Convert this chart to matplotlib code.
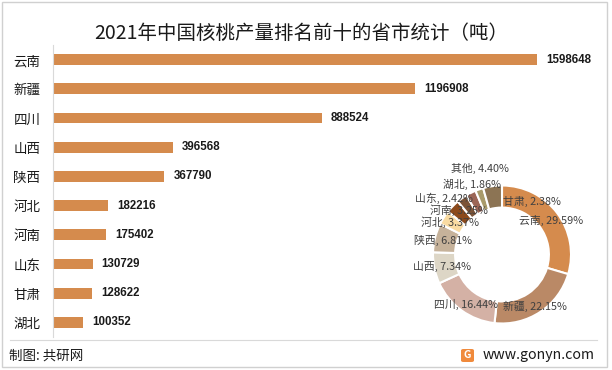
import matplotlib
matplotlib.use('Agg')
import matplotlib.pyplot as plt
from matplotlib.patches import Rectangle, FancyBboxPatch
from matplotlib.lines import Line2D
import numpy as np

plt.rcParams['font.family'] = ['Noto Sans CJK SC', 'DejaVu Sans']

# ------------------- DATA -------------------
provinces = ['云南', '新疆', '四川', '山西', '陕西', '河北', '河南', '山东', '甘肃', '湖北']
output_t = [1598648, 1196908, 888524, 396568, 367790, 182216, 175402, 130729, 128622, 100352]

share_names = ['云南', '新疆', '四川', '山西', '陕西', '河北', '河南', '山东', '甘肃', '湖北', '其他']
share_pct = [29.59, 22.15, 16.44, 7.34, 6.81, 3.37, 3.25, 2.42, 2.38, 1.86, 4.40]
share_colors = ['#D58B4D', '#BA8966', '#D4B1A5', '#DDD6C6', '#C6B29A', '#F9DBA2',
                '#8C4A1C', '#7B5337', '#9C6656', '#A99B6B', '#8C7454']
# label spots (donut radius units)
label_xy = [(0.71, 0.50), (0.48, -0.75), (-0.52, -0.73), (-0.87, -0.18), (-0.86, 0.21),
            (-0.75, 0.47), (-0.63, 0.64), (-0.84, 0.81), (0.44, 0.77), (-0.44, 1.01),
            (-0.32, 1.24)]

W, H = 612, 370
fig = plt.figure(figsize=(W / 100, H / 100), dpi=100)
fig.patch.set_facecolor('white')


def fx(px):
    return px / W


def fy(py):
    return 1 - py / H


# frame + separator
fig.patches.append(Rectangle((fx(2), fy(367)), fx(605), 365 / H, transform=fig.transFigure,
                             fill=False, ec='#D0D0D0', lw=1.0))
fig.lines.append(Line2D([fx(10), fx(597)], [fy(340), fy(340)], transform=fig.transFigure,
                        color='#D9D9D9', lw=0.8))

fig.text(fx(301), fy(33), '2021年中国核桃产量排名前十的省市统计（吨）', ha='center', va='center',
         fontsize=14, color='#1a1a1a')

# ------------------- BARS -------------------
ax = fig.add_axes([fx(53), fy(337), fx(545), 292 / H])
y = np.arange(len(provinces))
ax.barh(y, output_t, height=0.37, color='#D58B4D')
ax.set_ylim(len(provinces) - 0.5, -0.5)
ax.set_xlim(0, 1.8e6)
ax.set_yticks(y)
ax.set_yticklabels(provinces, fontsize=9.7, color='#1a1a1a')
ax.tick_params(axis='y', length=0, pad=9)
ax.set_xticks([])
for s in ['top', 'right', 'bottom']:
    ax.spines[s].set_visible(False)
ax.spines['left'].set_color('#D9D9D9')
for yi, v in zip(y, output_t):
    ax.annotate(str(v), (v, yi), xytext=(6.5, 0), textcoords='offset points',
                va='center', ha='left', fontsize=8.3, fontweight='bold',
                family=['Liberation Sans', 'DejaVu Sans'], color='#1a1a1a')
ax.patch.set_alpha(0)

# ------------------- DONUT -------------------
r_px = 69
cx, cy = 502, 254.5
pax = fig.add_axes([fx(cx - r_px), fy(cy + r_px), 2 * r_px / W, 2 * r_px / H])
pax.pie(share_pct, colors=share_colors, startangle=90, counterclock=False,
        wedgeprops=dict(width=0.32, edgecolor='white', linewidth=1.5))
pax.set_xlim(-1, 1)
pax.set_ylim(-1, 1)
for name, p, (lx, ly) in zip(share_names, share_pct, label_xy):
    pax.text(lx, ly, f'{name}, {p:.2f}%', ha='center', va='center', fontsize=7.8,
             color='#404040', clip_on=False)

# ------------------- FOOTER -------------------
fig.text(fx(9), fy(356), '制图: 共研网', ha='left', va='center', fontsize=9.7, color='#1a1a1a')
fig.patches.append(FancyBboxPatch((fx(461), fy(362)), fx(13), 13 / H,
                                  boxstyle='round,pad=0,rounding_size=0.004',
                                  transform=fig.transFigure, fc='#F08A3C', ec='none'))
fig.text(fx(467.5), fy(355.5), 'G', ha='center', va='center', fontsize=7.5, color='white',
         fontweight='bold')
fig.text(fx(595), fy(355), 'www.gonyn.com', ha='right', va='center', fontsize=10.2,
         color='#1a1a1a')

fig.savefig('out.png', dpi=100)
